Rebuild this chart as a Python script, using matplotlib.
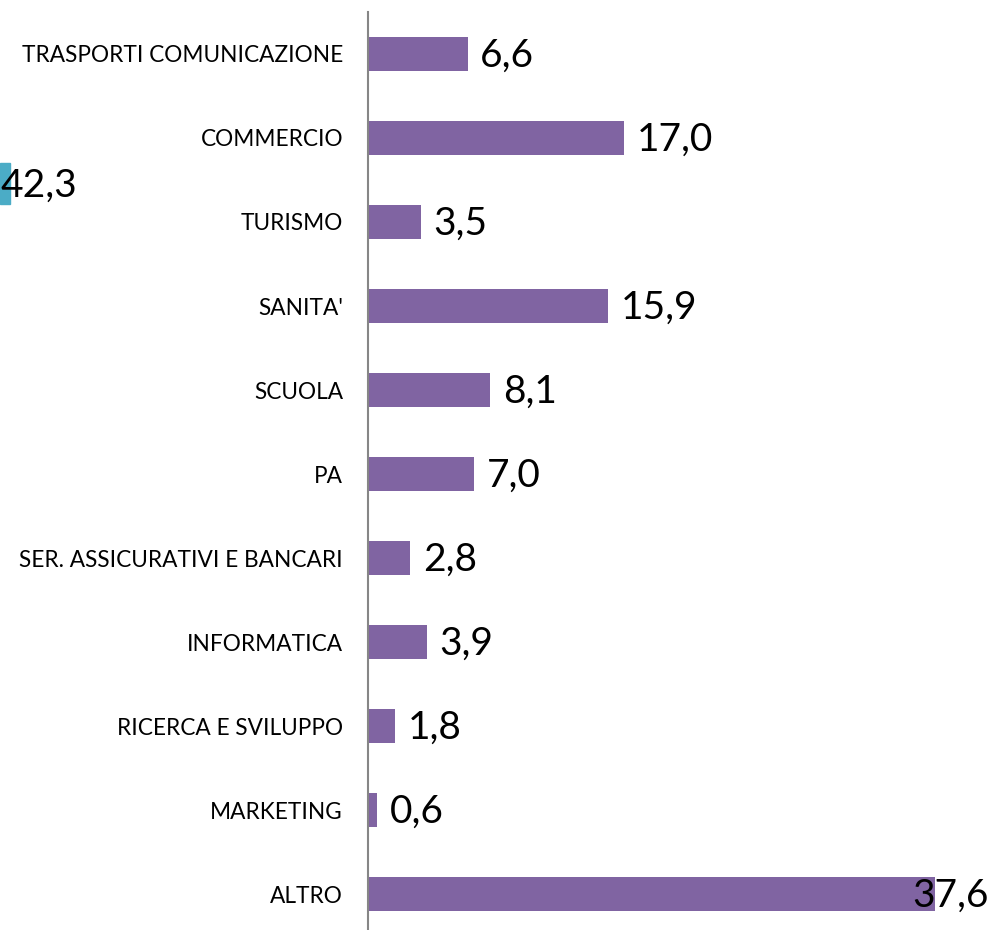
import matplotlib.pyplot as plt
from matplotlib.patches import Rectangle

# settori (dall'alto in basso) e percentuali
settori = ["TRASPORTI COMUNICAZIONE", "COMMERCIO", "TURISMO", "SANITA'", "SCUOLA", "PA",
           "SER. ASSICURATIVI E BANCARI", "INFORMATICA", "RICERCA E SVILUPPO",
           "MARKETING", "ALTRO"]
valori = [6.6, 17.0, 3.5, 15.9, 8.1, 7.0, 2.8, 3.9, 1.8, 0.6, 37.6]
valore_tagliato = 42.3  # etichetta di un'altra serie, tagliata al bordo sinistro

plt.rcParams['font.family'] = ['Lato', 'DejaVu Sans']

W, H = 992, 930
fig = plt.figure(figsize=(W / 100, H / 100), dpi=100)
# asse: x da 368 px, 15.08 px per unita'; righe da y=12 a y=936
ax = fig.add_axes([368 / W, (H - 936) / H, 40 * 15.08 / W, 924 / H])

y = list(range(len(settori)))
ax.barh(y, valori, height=0.4, color='#8064A2')
ax.set_ylim(len(settori) - 0.5, -0.5)
ax.set_xlim(0, 40)

for yi, v in zip(y, valori):
    txt = f"{v:.1f}".replace('.', ',')
    if v > 35:
        # non entra a destra: Excel la sposta dentro
        ax.text(41.2, yi + 0.02, txt, va='center', ha='right', fontsize=28, clip_on=False)
    else:
        ax.text(v + 0.85, yi + 0.02, txt, va='center', ha='left', fontsize=28)

ax.set_yticks(y)
ax.set_yticklabels(settori, fontsize=16.3)
ax.tick_params(axis='y', length=0, pad=18)
ax.set_xticks([])
for s in ['top', 'right', 'bottom']:
    ax.spines[s].set_visible(False)
ax.spines['left'].set_color('#868686')
ax.spines['left'].set_linewidth(1.5)

# frammento di barra azzurra tagliato a sinistra
fig.patches.append(Rectangle((0, 1 - 204 / H), 10 / W, 41 / H, transform=fig.transFigure,
                             color='#4BACC6'))
fig.text(0, 1 - 186 / H, f"{valore_tagliato:.1f}".replace('.', ','), fontsize=28,
         va='center', ha='left')

fig.savefig('out.png', dpi=100)
